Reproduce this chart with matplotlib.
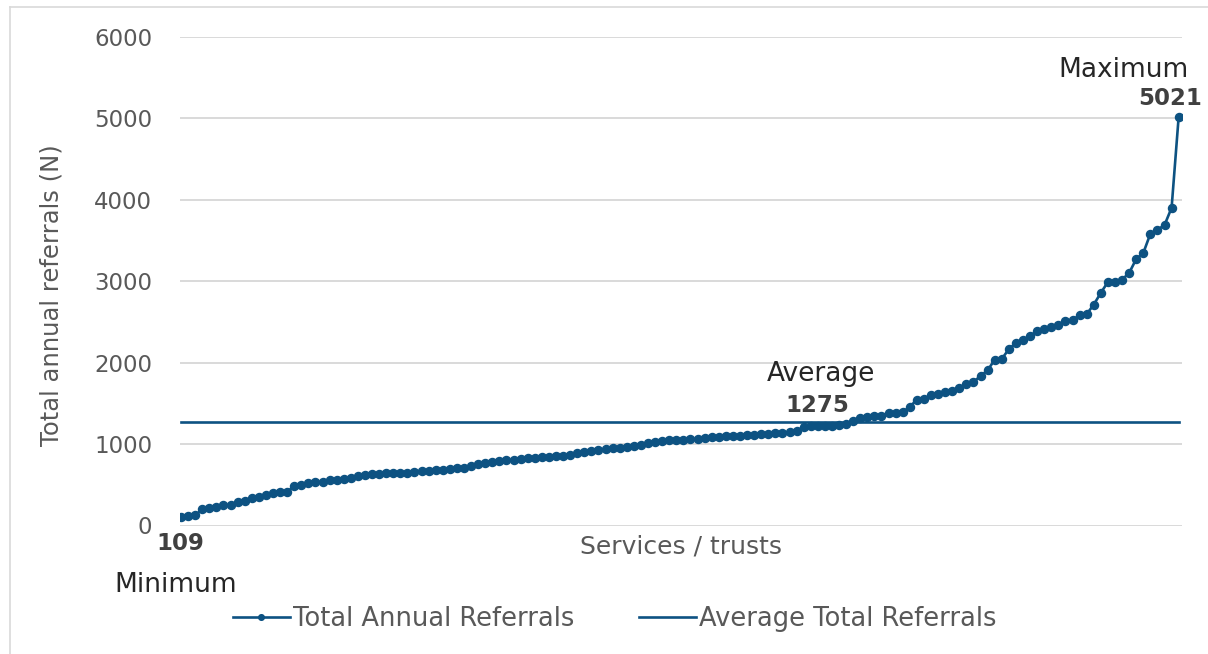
import numpy as np
import matplotlib
matplotlib.use("Agg")
import matplotlib.pyplot as plt
from matplotlib.lines import Line2D

plt.rcParams['font.family'] = ['DejaVu Sans']

# ---- data ----
referrals = [
    109, 113, 125, 198, 212, 222, 250, 252, 293, 300,
    341, 355, 375, 398, 410, 414, 484, 498, 525, 531,
    537, 555, 560, 565, 587, 605, 615, 632, 636, 640,
    642, 644, 646, 654, 667, 675, 679, 685, 691, 701,
    712, 728, 752, 766, 784, 790, 801, 810, 822, 828,
    835, 843, 847, 851, 859, 871, 888, 904, 914, 922,
    935, 947, 953, 965, 980, 992, 1008, 1027, 1039, 1045,
    1051, 1052, 1057, 1066, 1076, 1084, 1090, 1096, 1100, 1105,
    1109, 1115, 1119, 1123, 1131, 1137, 1145, 1162, 1208, 1216,
    1220, 1224, 1228, 1237, 1250, 1286, 1326, 1338, 1343, 1351,
    1384, 1387, 1392, 1457, 1547, 1550, 1600, 1612, 1645, 1653,
    1686, 1735, 1763, 1837, 1906, 2037, 2045, 2167, 2241, 2280,
    2327, 2390, 2408, 2441, 2457, 2514, 2523, 2584, 2596, 2714,
    2857, 2992, 2995, 3020, 3102, 3273, 3347, 3583, 3632, 3690,
    3902, 5021,
]
average_value = 1275
y_ticks = [0, 1000, 2000, 3000, 4000, 5000, 6000]
series_labels = ["Total Annual Referrals", "Average Total Referrals"]
y_title = "Total annual referrals (N)"
x_title = "Services / trusts"

# ---- styling ----
W, H = 1208, 654
DPI = 100
line_color = "#0D5282"
grid_color = "#D9D9D9"
tick_color = "#595959"
dark = "#262626"
bold_col = "#404040"

fig = plt.figure(figsize=(W / DPI, H / DPI), dpi=DPI)

# light chart border (left and top edges visible)
fig.add_artist(Line2D([10 / W, 10 / W], [0, 1 - 7 / H], transform=fig.transFigure,
                      color="#D9D9D9", lw=1.2))
fig.add_artist(Line2D([10 / W, 1.01], [1 - 7 / H, 1 - 7 / H], transform=fig.transFigure,
                      color="#D9D9D9", lw=1.2))

left_px, right_px, top_px, bottom_px = 180, 1182, 37, 525.5
ax = fig.add_axes([left_px / W, 1 - bottom_px / H,
                   (right_px - left_px) / W, (bottom_px - top_px) / H])

n = len(referrals)
x = np.arange(1, n + 1)

for yt in y_ticks:
    ax.axhline(yt, color=grid_color, lw=1.4, zorder=0)

ax.plot(x, referrals, color=line_color, lw=1.9, marker="o", markersize=5.8,
        label=series_labels[0], zorder=3)
ax.plot(x, [average_value] * n, color=line_color, lw=1.9,
        label=series_labels[1], zorder=2)

ax.set_xlim(0.86, n + 0.47)
ax.set_ylim(0, 6000)
ax.set_yticks(y_ticks)
ax.set_yticklabels([str(v) for v in y_ticks])
ax.set_xticks([])
ax.tick_params(axis="y", length=0, pad=20, labelsize=16.5, labelcolor=tick_color)
for s in ax.spines.values():
    s.set_visible(False)

ax.set_ylabel(y_title, fontsize=17.5, color=tick_color)
ax.yaxis.set_label_coords(-0.116, 0.472)
ax.set_xlabel(x_title, fontsize=18, color=tick_color)
ax.xaxis.set_label_coords(0.5, -0.042)
ax.xaxis.label.set_va("center")

# annotations
imin = int(np.argmin(referrals))
imax = int(np.argmax(referrals))
ax.annotate(str(referrals[imin]), xy=(x[imin], referrals[imin]), xytext=(-1, -27),
            textcoords="offset pixels", ha="center", va="center",
            fontsize=16.5, fontweight="bold", color=bold_col)
ax.annotate("Minimum", xy=(x[imin], referrals[imin]), xytext=(-5, -68),
            textcoords="offset pixels", ha="center", va="center",
            fontsize=19, color=dark, annotation_clip=False)
ax.annotate(str(referrals[imax]), xy=(x[imax], referrals[imax]), xytext=(-9, 18),
            textcoords="offset pixels", ha="center", va="center",
            fontsize=16.5, fontweight="bold", color=bold_col, annotation_clip=False)
ax.annotate("Maximum", xy=(x[imax], referrals[imax]), xytext=(-55, 47),
            textcoords="offset pixels", ha="center", va="center",
            fontsize=19, color=dark, annotation_clip=False)
iavg = 90
ax.annotate(str(average_value), xy=(x[iavg], average_value), xytext=(0, 16),
            textcoords="offset pixels", ha="center", va="center",
            fontsize=16.5, fontweight="bold", color=bold_col)
ax.annotate("Average", xy=(x[iavg], average_value), xytext=(3, 48),
            textcoords="offset pixels", ha="center", va="center",
            fontsize=19, color=dark)

handles, labels = ax.get_legend_handles_labels()
leg = fig.legend(handles, labels, loc="center", bbox_to_anchor=(615 / W, 1 - 619 / H),
                 ncol=2, frameon=False, fontsize=18.5, handlelength=2.2,
                 handletextpad=0.15, columnspacing=2.5, markerscale=0.7)
for t in leg.get_texts():
    t.set_color(tick_color)

fig.savefig("out.png", dpi=DPI)
